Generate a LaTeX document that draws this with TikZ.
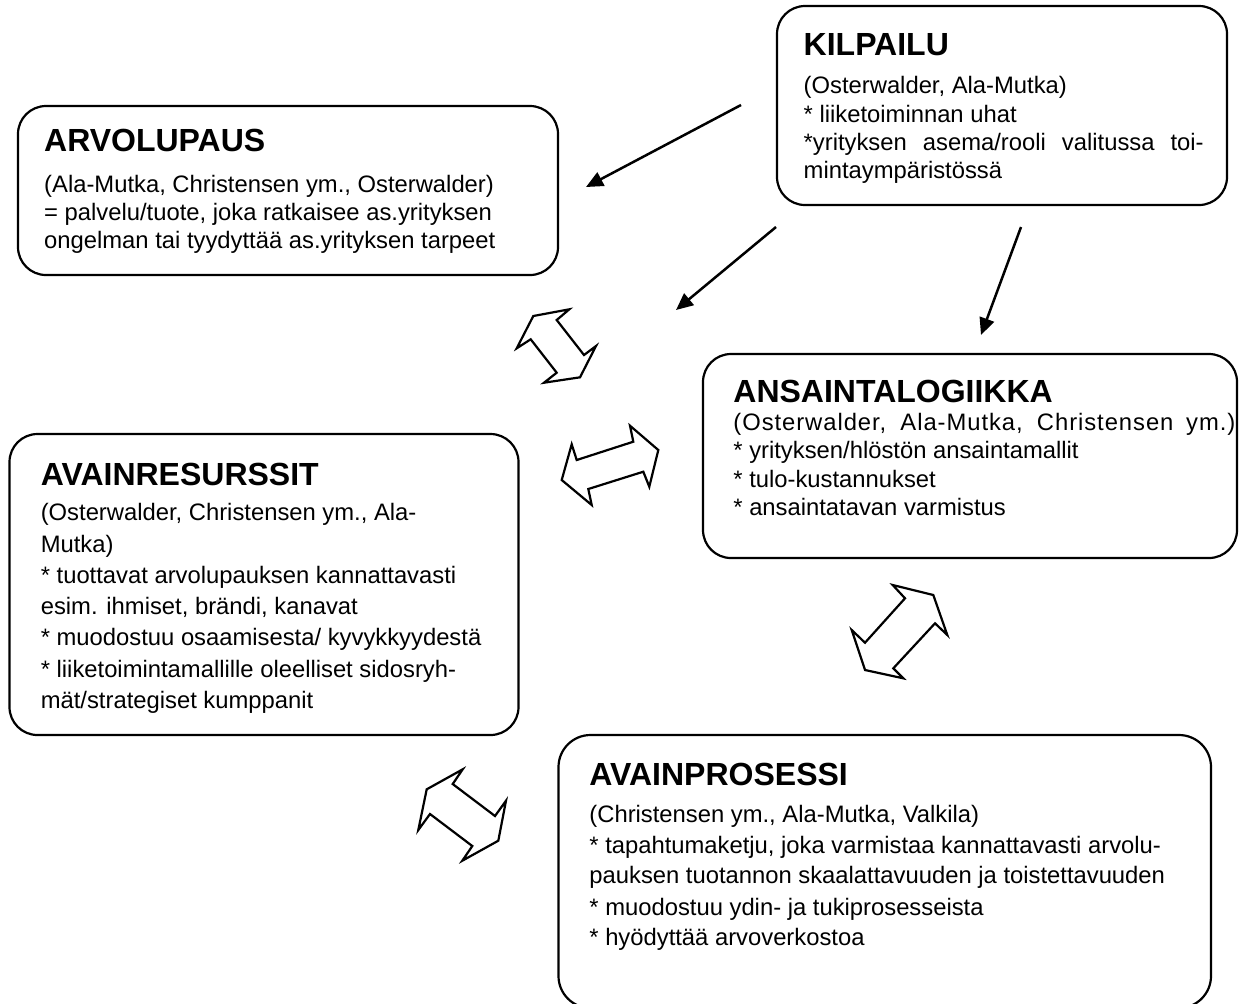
\documentclass[tikz,border=0pt]{standalone}
\usepackage{fontspec}
\setmainfont{Liberation Sans}
\usetikzlibrary{arrows.meta}
\begin{document}
\begin{tikzpicture}[x=0.5pt,y=-0.5pt,
  box/.style={draw, line width=1.1pt, rounded corners=14pt, inner sep=0pt, outer sep=0pt},
  ttl/.style={anchor=base west, inner sep=0pt, font=\fontsize{16pt}{18pt}\selectfont\bfseries},
  txt/.style={anchor=base west, inner sep=0pt, font=\fontsize{11.9pt}{14pt}\selectfont},
  arr/.style={line width=1.25pt, -{Triangle[length=8.5pt,width=7.5pt]}},
  dbl/.style={draw, fill=white, line width=1.1pt, line join=miter}]
\useasboundingbox (0,0) rectangle (1246,1003);

% boxes
\node[box, minimum width=270pt, minimum height=84.5pt] (arvo) at (288,190.5) {};
\node[box, minimum width=225pt, minimum height=99.5pt] (kilp) at (1002,105.5) {};
\node[box, minimum width=267pt, minimum height=102pt] (ansa) at (970,456) {};
\node[box, minimum width=254.5pt, minimum height=150.5pt] (resu) at (264,584.5) {};
\node[box, rounded corners=16pt, minimum width=326.25pt, minimum height=136.5pt] (pros) at (884.75,871.5) {};

% ARVOLUPAUS
\node[ttl] (a0) at (43.8,151) {ARVOLUPAUS};
\node[txt] (a1) at (43.8,192) {(Ala-Mutka, Christensen ym., Osterwalder)};
\node[txt] (a2) at (43.8,220) {= palvelu/tuote, joka ratkaisee as.yrityksen};
\node[txt] (a3) at (43.8,248) {ongelman tai tyydyttää as.yrityksen tarpeet};

% KILPAILU
\node[ttl] (k0) at (803.3,55) {KILPAILU};
\node[txt] (k1) at (803.3,93) {(Osterwalder, Ala-Mutka)};
\node[txt] (k2) at (803.3,122) {* liiketoiminnan uhat};
\node[txt] (k3) at (803.3,150) {\makebox[200pt][s]{*yrityksen asema/rooli valitussa toi-}};
\node[txt] (k4) at (803.3,178) {mintaympäristössä};

% ANSAINTALOGIIKKA
\node[ttl] (n0) at (733,402) {ANSAINTALOGIIKKA};
\node[txt] (n1) at (733,430) {\makebox[251pt][s]{\addfontfeature{LetterSpace=4}(Osterwalder, Ala-Mutka, Christensen ym.)}};
\node[txt] (n2) at (733,458) {* yrityksen/hlöstön ansaintamallit};
\node[txt] (n3) at (733,487) {* tulo-kustannukset};
\node[txt] (n4) at (733,515) {* ansaintatavan varmistus};

% AVAINRESURSSIT
\node[ttl] (r0) at (40.4,485) {AVAINRESURSSIT};
\node[txt] (r1) at (40.4,520) {(Osterwalder, Christensen ym., Ala-};
\node[txt] (r2) at (40.4,552) {Mutka)};
\node[txt] (r3) at (40.4,583) {* tuottavat arvolupauksen kannattavasti};
\node[txt] (r4) at (40.4,614) {esim. ihmiset, brändi, kanavat};
\node[txt] (r5) at (40.4,645) {* muodostuu osaamisesta/ kyvykkyydestä};
\node[txt] (r6) at (40.4,677) {* liiketoimintamallille oleelliset sidosryh-};
\node[txt] (r7) at (40.4,708) {mät/strategiset kumppanit};

% AVAINPROSESSI
\node[ttl] (p0) at (589,785) {AVAINPROSESSI};
\node[txt] (p1) at (589,822) {(Christensen ym., Ala-Mutka, Valkila)};
\node[txt] (p2) at (589,853) {* tapahtumaketju, joka varmistaa kannattavasti arvolu-};
\node[txt] (p3) at (589,883) {pauksen tuotannon skaalattavuuden ja toistettavuuden};
\node[txt] (p4) at (589,915) {* muodostuu ydin- ja tukiprosesseista};
\node[txt] (p5) at (589,945) {* hyödyttää arvoverkostoa};

% single arrows
\coordinate (k1s) at (741,105);
\coordinate (k1e) at (586,187);
\coordinate (k2s) at (776,227);
\coordinate (k2e) at (676,310);
\coordinate (k3s) at (1021,227);
\coordinate (k3e) at (981,335);
\draw[arr] (k1s) -- (k1e);
\draw[arr] (k2s) -- (k2e);
\draw[arr] (k3s) -- (k3e);

% double block arrows
\draw[dbl] (533.3,316) -- (569.3,309.3) -- (556.7,320) -- (584,355) -- (596,346) -- (580,377.3) -- (544,382.7) -- (556.7,372.7) -- (530.7,339.3) -- (516.7,348.3) -- cycle;
\draw[dbl] (571.7,444.3) -- (576.7,460) -- (633.3,441.7) -- (630,425.7) -- (658.3,450) -- (649.3,486.7) -- (643.3,471.7) -- (588.3,489) -- (591.7,505) -- (561.7,480) -- cycle;
\draw[dbl] (892.7,585) -- (933.3,595) -- (947.3,635) -- (935,623.3) -- (893.3,668.3) -- (903.3,678.3) -- (865,670) -- (851.7,630) -- (865,642.7) -- (905,598.3) -- cycle;
\draw[dbl] (462.7,769.3) -- (452.7,784) -- (495,816) -- (506,800.7) -- (498.3,840.7) -- (462.3,860.7) -- (472.3,846) -- (430,814) -- (418.3,830) -- (426.7,789.3) -- cycle;
\end{tikzpicture}
\end{document}
